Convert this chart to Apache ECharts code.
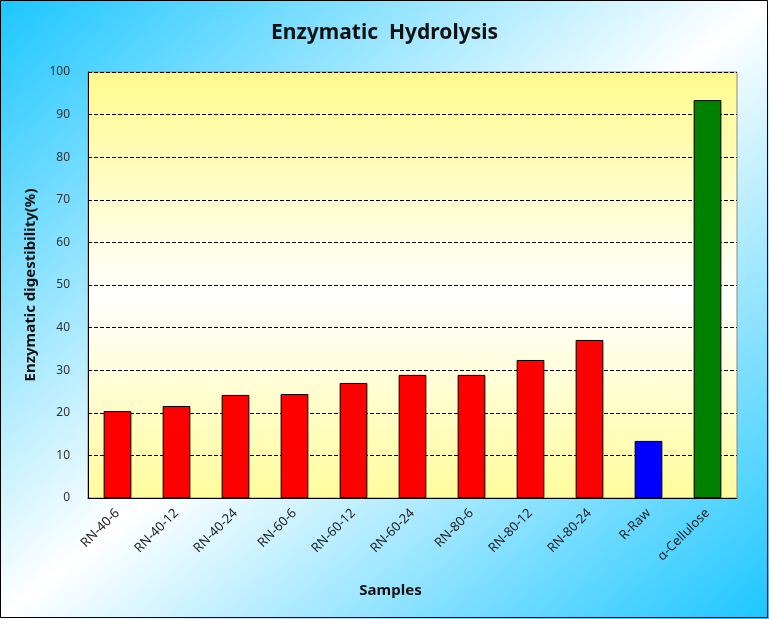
<!DOCTYPE html>
<html><head><meta charset="utf-8">
<script src="https://cdn.jsdelivr.net/npm/echarts@6/dist/echarts.min.js"></script>
<style>html,body{margin:0;padding:0;}#c{width:769px;height:619px;}</style>
</head><body><div id="c"></div>
<script>
const categories = ['RN-40-6','RN-40-12','RN-40-24','RN-60-6','RN-60-12','RN-60-24','RN-80-6','RN-80-12','RN-80-24','R-Raw','α-Cellulose'];
const values = [20.4, 21.6, 24.2, 24.4, 27.0, 28.9, 28.9, 32.4, 37.1, 13.4, 93.4];
const barColors = ['#FF0000','#FF0000','#FF0000','#FF0000','#FF0000','#FF0000','#FF0000','#FF0000','#FF0000','#0000FF','#008000'];
const yTicks = {min: 0, max: 100, interval: 10};

const font = 'Noto Sans, sans-serif';
const chart = echarts.init(document.getElementById('c'));
chart.setOption({
  animation: false,
  backgroundColor: new echarts.graphic.LinearGradient(82, -66, 687, 685, [
    {offset: 0, color: '#1CC6FF'},
    {offset: 0.5, color: '#FFFFFF'},
    {offset: 1, color: '#1CC6FF'}
  ], true),
  title: {
    text: 'Enzymatic  Hydrolysis', left: 'center', top: 18,
    textStyle: {fontFamily: font, fontSize: 21, fontWeight: 'bold', color: '#111'}
  },
  graphic: [{
    type: 'rect', shape: {x: 0.5, y: 0.5, width: 767, height: 617},
    style: {fill: 'none', stroke: '#000', lineWidth: 1}, silent: true, z: 100
  }],
  grid: {
    left: 88, right: 32, top: 72, bottom: 121, show: true,
    backgroundColor: new echarts.graphic.LinearGradient(0, 0, 0, 1, [
      {offset: 0, color: '#FFFA8C'},
      {offset: 0.53, color: '#FFFFFF'},
      {offset: 1, color: '#FFFC9C'}
    ]),
    borderColor: '#888', borderWidth: 1
  },
  xAxis: {
    type: 'category', data: categories,
    name: 'Samples', nameLocation: 'middle', nameGap: 85,
    nameTextStyle: {fontFamily: font, fontSize: 15, fontWeight: 'bold', color: '#111', padding: [0, 44, 0, 0]},
    axisLine: {lineStyle: {color: '#000', width: 1}},
    axisTick: {inside: true, length: 5, lineStyle: {color: '#000'}},
    axisLabel: {rotate: 45, fontFamily: font, fontSize: 13, color: '#222', margin: 13, interval: 0}
  },
  yAxis: {
    type: 'value', min: yTicks.min, max: yTicks.max, interval: yTicks.interval,
    name: 'Enzymatic digestibility(%)', nameLocation: 'middle', nameGap: 48,
    nameTextStyle: {fontFamily: font, fontSize: 15, fontWeight: 'bold', color: '#111'},
    axisLine: {show: true, lineStyle: {color: '#000', width: 1}},
    axisTick: {show: true, inside: true, length: 4, lineStyle: {color: '#000'}},
    axisLabel: {fontFamily: font, fontSize: 12, color: '#333', margin: 18},
    splitLine: {show: true, lineStyle: {color: '#000', type: [4, 2], width: 1}}
  },
  series: [{
    type: 'bar', barWidth: '47%',
    data: values.map((v, i) => ({value: v, itemStyle: {color: barColors[i]}})),
    itemStyle: {borderColor: '#000', borderWidth: 1}
  }]
});
</script></body></html>
